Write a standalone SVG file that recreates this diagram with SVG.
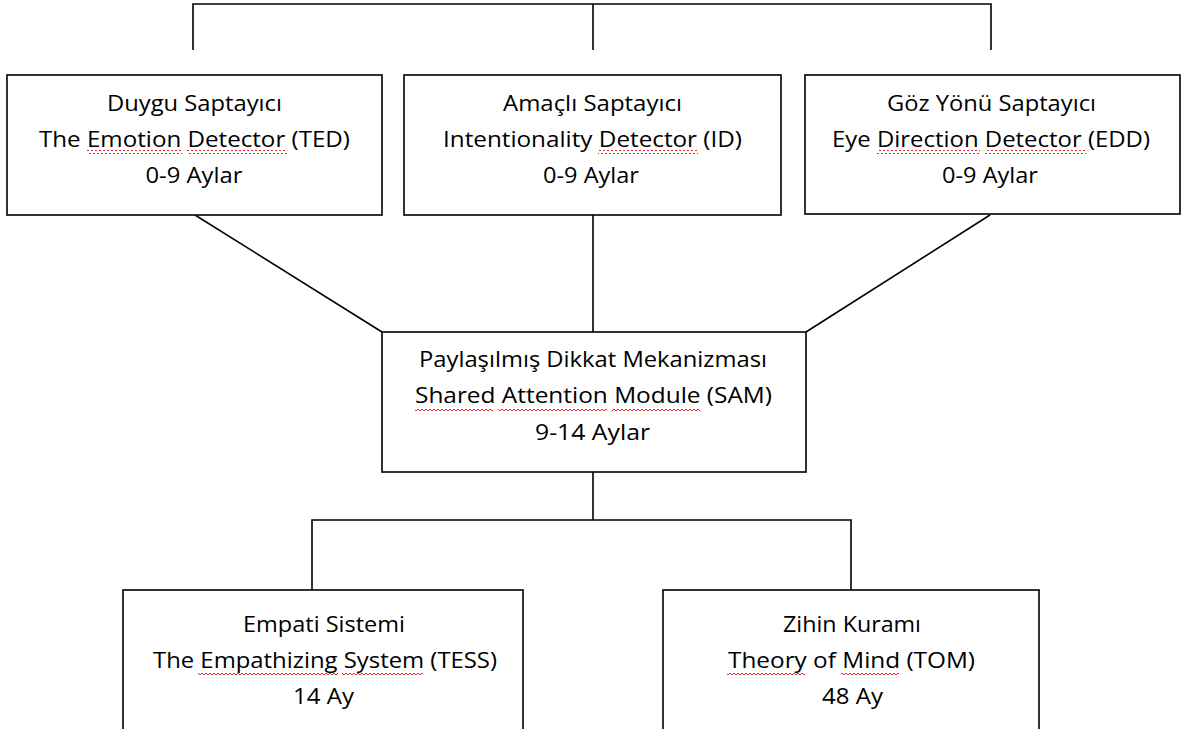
<svg xmlns="http://www.w3.org/2000/svg" width="1188" height="729" viewBox="0 0 1188 729">
  <style>
    .box { fill: #ffffff; stroke: #000000; stroke-width: 1.6; }
    .wire { fill: none; stroke: #000000; stroke-width: 1.6; }
    .lbl { font-family: "Open Sans", "Liberation Sans", sans-serif; font-size: 22px; fill: #000000; text-anchor: middle; font-variant-ligatures: none; }
    .sq { fill: url(#squiggle); }
  </style>
  <defs>
    <!-- red wavy spell-check underline -->
    <pattern id="squiggle" patternUnits="userSpaceOnUse" width="4" height="4">
      <polyline points="0,3 2,1 4,3" fill="none" stroke="#f0282c" stroke-width="1"/>
    </pattern>
  </defs>

  <rect width="1188" height="729" fill="#ffffff"/>

  <!-- connectors -->
  <g id="connectors">
    <polyline class="wire" points="193,50 193,4 991,4 991,50"/>
    <line class="wire" x1="593" y1="4" x2="593" y2="50"/>
    <line class="wire" x1="195" y1="215" x2="382" y2="332"/>
    <line class="wire" x1="593" y1="215" x2="593" y2="332"/>
    <line class="wire" x1="990" y1="215" x2="806" y2="332"/>
    <line class="wire" x1="593" y1="472" x2="593" y2="520"/>
    <polyline class="wire" points="312,590 312,520 851,520 851,590"/>
  </g>

  <g id="ted">
    <rect class="box" x="7" y="75" width="375" height="140"/>
    <text class="lbl" x="194.5" y="111" textLength="175" lengthAdjust="spacingAndGlyphs">Duygu Saptayıcı</text>
    <text class="lbl" x="194.5" y="147" textLength="311" lengthAdjust="spacingAndGlyphs">The Emotion Detector (TED)</text>
    <text class="lbl" x="194" y="183" textLength="97" lengthAdjust="spacingAndGlyphs">0-9 Aylar</text>
    <rect class="sq" x="87" y="150" width="95" height="4"/>
    <rect class="sq" x="187" y="150" width="100" height="4"/>
  </g>

  <g id="id">
    <rect class="box" x="404" y="75" width="377" height="140"/>
    <text class="lbl" x="592.5" y="111" textLength="179" lengthAdjust="spacingAndGlyphs">Amaçlı Saptayıcı</text>
    <text class="lbl" x="592.5" y="147" textLength="299" lengthAdjust="spacingAndGlyphs">Intentionality Detector (ID)</text>
    <text class="lbl" x="591" y="183" textLength="96" lengthAdjust="spacingAndGlyphs">0-9 Aylar</text>
    <rect class="sq" x="598" y="150" width="100" height="4"/>
  </g>

  <g id="edd">
    <rect class="box" x="805" y="75" width="375" height="139"/>
    <text class="lbl" x="991.5" y="111" textLength="209" lengthAdjust="spacingAndGlyphs">Göz Yönü Saptayıcı</text>
    <text class="lbl" x="991" y="147" textLength="318" lengthAdjust="spacingAndGlyphs">Eye Direction Detector (EDD)</text>
    <text class="lbl" x="990" y="183" textLength="96" lengthAdjust="spacingAndGlyphs">0-9 Aylar</text>
    <rect class="sq" x="877" y="150" width="103" height="4"/>
    <rect class="sq" x="985" y="150" width="101" height="4"/>
  </g>

  <g id="sam">
    <rect class="box" x="382" y="332" width="424" height="140"/>
    <text class="lbl" x="593" y="367" textLength="348" lengthAdjust="spacingAndGlyphs">Paylaşılmış Dikkat Mekanizması</text>
    <text class="lbl" x="593.5" y="403" textLength="357" lengthAdjust="spacingAndGlyphs">Shared Attention Module (SAM)</text>
    <text class="lbl" x="592.5" y="440" textLength="115" lengthAdjust="spacingAndGlyphs">9-14 Aylar</text>
    <rect class="sq" x="415" y="407" width="78" height="4"/>
    <rect class="sq" x="498" y="407" width="109" height="4"/>
    <rect class="sq" x="612" y="407" width="88" height="4"/>
  </g>

  <g id="tess">
    <rect class="box" x="123" y="590" width="400" height="150"/>
    <text class="lbl" x="324" y="632" textLength="162" lengthAdjust="spacingAndGlyphs">Empati Sistemi</text>
    <text class="lbl" x="325" y="668" textLength="344" lengthAdjust="spacingAndGlyphs">The Empathizing System (TESS)</text>
    <text class="lbl" x="323.5" y="704" textLength="61" lengthAdjust="spacingAndGlyphs">14 Ay</text>
    <rect class="sq" x="198" y="671" width="140" height="4"/>
    <rect class="sq" x="342" y="671" width="81" height="4"/>
  </g>

  <g id="tom">
    <rect class="box" x="663" y="590" width="376" height="150"/>
    <text class="lbl" x="852" y="632" textLength="138" lengthAdjust="spacingAndGlyphs">Zihin Kuramı</text>
    <text class="lbl" x="851.5" y="668" textLength="247" lengthAdjust="spacingAndGlyphs">Theory of Mind (TOM)</text>
    <text class="lbl" x="852.5" y="704" textLength="61" lengthAdjust="spacingAndGlyphs">48 Ay</text>
    <rect class="sq" x="727" y="671" width="78" height="4"/>
    <rect class="sq" x="841" y="671" width="58" height="4"/>
  </g>
</svg>
